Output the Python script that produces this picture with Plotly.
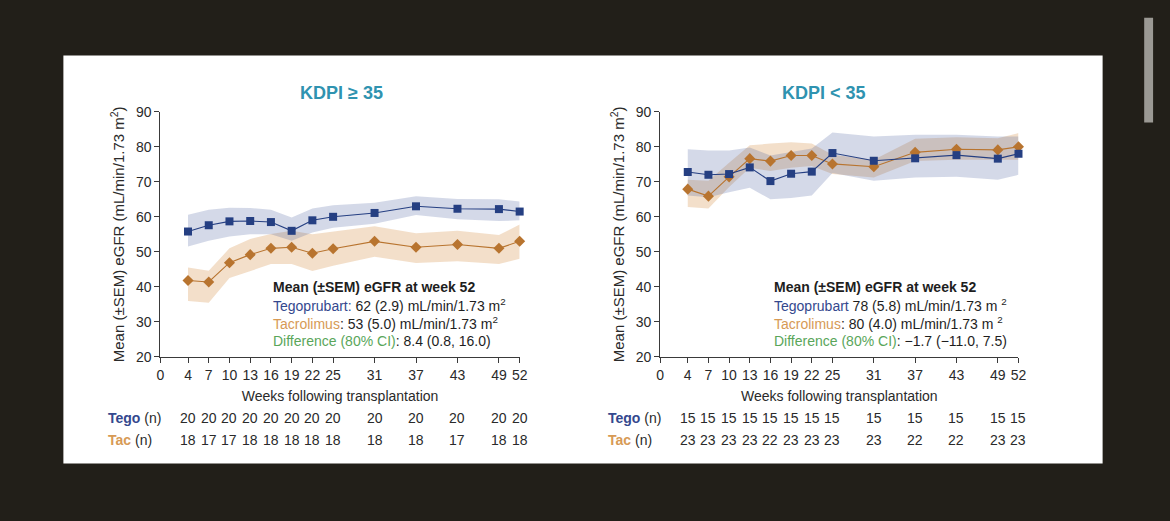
import plotly.graph_objects as go

# weeks following transplantation
weeks = [4, 7, 10, 13, 16, 19, 22, 25, 31, 37, 43, 49, 52]
week_ticks = [0, 4, 7, 10, 13, 16, 19, 22, 25, 31, 37, 43, 49, 52]

# KDPI >= 35
hi_tego_mean = [55.8, 57.6, 58.7, 58.8, 58.5, 56.0, 59.0, 60.0, 61.1, 63.0, 62.3, 62.2, 61.5]
hi_tego_upper = [60.6, 62.0, 62.6, 62.5, 62.0, 59.8, 62.4, 63.3, 64.0, 65.9, 65.1, 65.0, 64.4]
hi_tego_lower = [51.5, 53.2, 54.4, 55.0, 55.0, 53.2, 55.5, 56.9, 58.0, 60.5, 59.3, 58.8, 59.0]
hi_tac_mean = [41.8, 41.4, 46.9, 49.2, 51.0, 51.3, 49.6, 50.9, 53.0, 51.3, 52.1, 51.0, 53.0]
hi_tac_upper = [45.5, 44.6, 51.0, 53.7, 55.1, 56.0, 55.0, 55.8, 57.3, 55.3, 56.0, 54.8, 57.8]
hi_tac_lower = [36.0, 35.5, 42.5, 44.5, 46.5, 46.5, 44.5, 46.0, 48.6, 46.8, 47.3, 46.5, 48.0]
hi_tego_n = [20, 20, 20, 20, 20, 20, 20, 20, 20, 20, 20, 20, 20]
hi_tac_n = [18, 17, 17, 18, 18, 18, 18, 18, 18, 18, 17, 18, 18]

# KDPI < 35
lo_tego_mean = [72.8, 72.0, 72.2, 74.1, 70.2, 72.3, 72.9, 78.2, 76.0, 76.7, 77.6, 76.6, 78.0]
lo_tego_upper = [79.3, 78.9, 78.9, 79.8, 77.5, 78.5, 79.5, 84.1, 82.9, 83.4, 83.4, 82.9, 82.9]
lo_tego_lower = [66.1, 65.6, 67.0, 68.3, 65.0, 65.4, 66.1, 72.5, 70.3, 71.2, 71.4, 70.6, 72.0]
lo_tac_mean = [67.9, 65.9, 71.4, 76.6, 75.9, 77.5, 77.5, 75.1, 74.3, 78.4, 79.3, 79.1, 80.0]
lo_tac_upper = [70.6, 70.3, 75.4, 80.4, 80.9, 81.3, 80.9, 77.7, 76.3, 82.3, 82.7, 82.4, 83.9]
lo_tac_lower = [62.8, 62.4, 68.5, 74.0, 73.1, 74.0, 74.5, 72.2, 71.2, 75.9, 76.3, 76.3, 76.3]
lo_tego_n = [15, 15, 15, 15, 15, 15, 15, 15, 15, 15, 15, 15, 15]
lo_tac_n = [23, 23, 23, 23, 22, 23, 23, 23, 23, 22, 22, 23, 23]

panel_titles = ["KDPI ≥ 35", "KDPI < 35"]
tego_labels = ["Tegoprubart:", "Tegoprubart"]
week52_text = [
    ["62 (2.9) mL/min/1.73 m<sup>2</sup>", "53 (5.0) mL/min/1.73 m<sup>2</sup>", "8.4 (0.8, 16.0)"],
    ["78 (5.8) mL/min/1.73 m <sup>2</sup>", "80 (4.0) mL/min/1.73 m <sup>2</sup>", "\u22121.7 (\u221211.0, 7.5)"],
]

TEGO = "#253f82"
TAC = "#b8742f"
TEGO_BAND = "rgba(60,80,150,0.22)"
TAC_BAND = "rgba(215,150,80,0.30)"
FONT = "Liberation Sans, Arial, sans-serif"
TXT = "#2a2a2a"
W, H = 1170, 521

fig = go.Figure()

panels = [
    ("x", "y", hi_tego_mean, hi_tego_upper, hi_tego_lower, hi_tac_mean, hi_tac_upper, hi_tac_lower),
    ("x2", "y2", lo_tego_mean, lo_tego_upper, lo_tego_lower, lo_tac_mean, lo_tac_upper, lo_tac_lower),
]

for xa, ya, tg, tgu, tgl, tc, tcu, tcl in panels:
    # SEM bands first, then the mean lines
    for up, low, col in [(tcu, tcl, TAC_BAND), (tgu, tgl, TEGO_BAND)]:
        fig.add_trace(go.Scatter(x=weeks, y=up, xaxis=xa, yaxis=ya, mode="lines",
                                 line=dict(width=0), hoverinfo="skip", showlegend=False))
        fig.add_trace(go.Scatter(x=weeks, y=low, xaxis=xa, yaxis=ya, mode="lines",
                                 line=dict(width=0), fill="tonexty", fillcolor=col,
                                 hoverinfo="skip", showlegend=False))
    fig.add_trace(go.Scatter(x=weeks, y=tc, xaxis=xa, yaxis=ya, mode="lines+markers",
                             line=dict(color=TAC, width=1.1),
                             marker=dict(symbol="diamond", size=8.5, color=TAC),
                             cliponaxis=False, showlegend=False, name="Tacrolimus"))
    fig.add_trace(go.Scatter(x=weeks, y=tg, xaxis=xa, yaxis=ya, mode="lines+markers",
                             line=dict(color=TEGO, width=1.1),
                             marker=dict(symbol="square", size=8, color=TEGO),
                             cliponaxis=False, showlegend=False, name="Tegoprubart"))

xdoms = [[158 / W, 521 / W], [663 / W, 1025 / W]]
ydom = [(H - 360) / H, (H - 107) / H]

axis_common = dict(showline=True, linecolor="#3a3a3a", linewidth=1.2, ticks="outside",
                   ticklen=5, tickcolor="#3a3a3a", showgrid=False, zeroline=False,
                   tickfont=dict(size=14, color=TXT))

ytitle = "Mean (±SEM) eGFR (mL/min/1.73 m<sup>2</sup>)"
xtitle = "Weeks following transplantation"


def xaxis_cfg(dom, anchor):
    return dict(domain=dom, anchor=anchor, range=[0, 52], tickvals=week_ticks,
                title=dict(text=xtitle, font=dict(size=14, color=TXT), standoff=9), **axis_common)


def yaxis_cfg(anchor):
    return dict(domain=ydom, anchor=anchor, range=[20, 90], tickvals=list(range(20, 91, 10)),
                title=dict(text=ytitle, font=dict(size=15, color=TXT), standoff=7), **axis_common)


fig.update_layout(
    xaxis=xaxis_cfg(xdoms[0], "y"),
    yaxis=yaxis_cfg("x"),
    xaxis2=xaxis_cfg(xdoms[1], "y2"),
    yaxis2=yaxis_cfg("x2"),
)

# slide background and scrollbar
fig.add_shape(type="rect", xref="paper", yref="paper",
              x0=60 / W, x1=1110 / W, y0=(H - 470) / H, y1=(H - 49) / H,
              fillcolor="white", line=dict(width=0), layer="below")
fig.add_shape(type="rect", xref="paper", yref="paper",
              x0=1152 / W, x1=1161 / W, y0=(H - 118) / H, y1=(H - 10) / H,
              fillcolor="#9b9994", line=dict(width=0), layer="below")

title_x = [341, 829]
text_x = [270, 776]
row_x = [103, 608]
line_y = [288, 306, 325, 344]
tego_n_all = [hi_tego_n, lo_tego_n]
tac_n_all = [hi_tac_n, lo_tac_n]
xrefs = ["x", "x2"]

for i in range(2):
    fig.add_annotation(x=title_x[i] / W, y=(H - 88) / H, xref="paper", yref="paper",
                       xanchor="center", yanchor="middle",
                       text="<b>" + panel_titles[i] + "</b>", showarrow=False,
                       font=dict(size=18, color="#2f93b0"))
    rows = [
        "<b>Mean (±SEM) eGFR at week 52</b>",
        '<span style="color:#34488e">' + tego_labels[i] + "</span> " + week52_text[i][0],
        '<span style="color:#d79a55">Tacrolimus</span>: ' + week52_text[i][1],
        '<span style="color:#5aa65a">Difference (80% CI)</span>: ' + week52_text[i][2],
    ]
    for r, txt in enumerate(rows):
        fig.add_annotation(x=text_x[i] / W, y=(H - line_y[r]) / H, xref="paper", yref="paper",
                           text=txt, showarrow=False, xanchor="left", yanchor="middle",
                           font=dict(size=14, color="#1e1e1e"))
    # n at each visit
    fig.add_annotation(x=row_x[i] / W, y=(H - 423) / H, xref="paper", yref="paper",
                       text='<b><span style="color:#34488e">Tego</span></b> (n)', showarrow=False,
                       xanchor="left", yanchor="middle", font=dict(size=14, color=TXT))
    fig.add_annotation(x=row_x[i] / W, y=(H - 446) / H, xref="paper", yref="paper",
                       text='<b><span style="color:#d79a55">Tac</span></b> (n)', showarrow=False,
                       xanchor="left", yanchor="middle", font=dict(size=14, color=TXT))
    for wk, a, b in zip(weeks, tego_n_all[i], tac_n_all[i]):
        fig.add_annotation(x=wk, y=(H - 423) / H, xref=xrefs[i], yref="paper", text=str(a),
                           xanchor="center", yanchor="middle",
                           showarrow=False, font=dict(size=14, color=TXT))
        fig.add_annotation(x=wk, y=(H - 446) / H, xref=xrefs[i], yref="paper", text=str(b),
                           xanchor="center", yanchor="middle",
                           showarrow=False, font=dict(size=14, color=TXT))

fig.update_layout(
    width=W, height=H, margin=dict(l=0, r=0, t=0, b=0),
    paper_bgcolor="#221f19", plot_bgcolor="white",
    font=dict(family=FONT, color=TXT),
    showlegend=False,
)

fig.write_html("out.html", config={"displayModeBar": False},
               post_script="document.body.style.margin='0';")
